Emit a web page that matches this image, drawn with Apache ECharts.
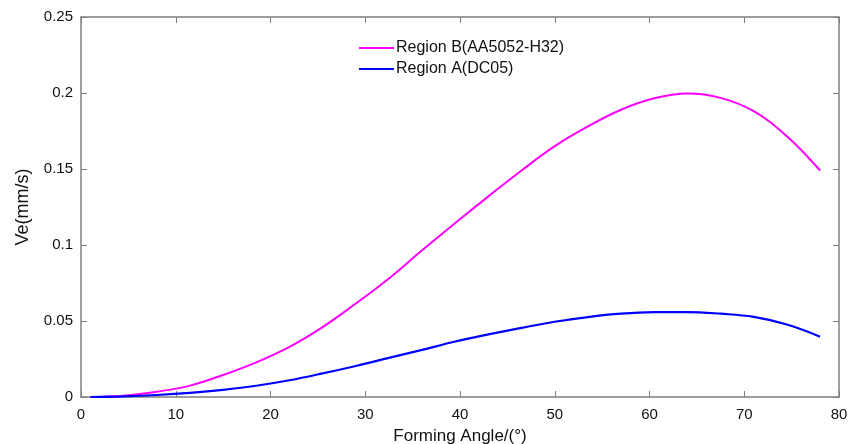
<!DOCTYPE html>
<html>
<head>
<meta charset="utf-8">
<script src="https://cdn.jsdelivr.net/npm/echarts@6/dist/echarts.min.js"></script>
<style>
  html, body { margin: 0; padding: 0; background: #fff; }
  #chart { width: 861px; height: 444px; }
</style>
</head>
<body>
<div id="chart"></div>
<script>
// Forming angle (°) sample positions, shared by both regions
const angles = [1, 4.5, 8, 11.5, 15, 18.5, 22, 25.5, 29, 32.5, 36, 39.5, 43, 46.5, 50, 53.5, 57, 60.5, 64, 67.5, 71, 74.5, 78];

// Velocity Ve (mm/s), Region B (AA5052-H32)
const regionB = [0, 0.0009, 0.0035, 0.0075, 0.0145, 0.0228, 0.033, 0.046, 0.0615, 0.078, 0.0965, 0.1145, 0.132, 0.149, 0.165, 0.178, 0.189, 0.1965, 0.1996, 0.1968, 0.188, 0.1715, 0.149];

// Velocity Ve (mm/s), Region A (DC05)
const regionA = [0, 0.0004, 0.0013, 0.0027, 0.0047, 0.0074, 0.011, 0.0155, 0.0204, 0.0257, 0.031, 0.0365, 0.0412, 0.0455, 0.0495, 0.0526, 0.0548, 0.0558, 0.0559, 0.0548, 0.0527, 0.0477, 0.0397];

const xTicks = { min: 0, max: 80, interval: 10 };
const yTicks = { min: 0, max: 0.25, interval: 0.05 };

const seriesNames = ['Region B(AA5052-H32)', 'Region A(DC05)'];

const axisGray = '#7f7f7f';
const font = 'Liberation Sans, Arial, Helvetica, sans-serif';

function pairs(xs, ys) { return xs.map((x, i) => [x, ys[i]]); }

function fmtY(v) {
  if (v === 0) return '0';
  return String(parseFloat(v.toFixed(2)));
}

const chart = echarts.init(document.getElementById('chart'), null, { renderer: 'canvas' });

const boxAxisLine = { show: true, onZero: false, lineStyle: { color: axisGray, width: 1.5 } };
const innerTick = { show: true, inside: true, length: 6, lineStyle: { color: axisGray, width: 1 } };

chart.setOption({
  animation: false,
  backgroundColor: '#ffffff',
  grid: { left: 81, right: 22, top: 17, bottom: 47, containLabel: false, outerBoundsMode: 'none' },
  legend: {
    orient: 'vertical',
    left: 354,
    top: 35,
    itemWidth: 35,
    itemHeight: 2,
    itemGap: 5,
    icon: 'rect',
    textStyle: { fontFamily: font, fontSize: 16, color: '#111', padding: [0, 0, 0, -3] },
    data: seriesNames
  },
  xAxis: [
    {
      type: 'value', position: 'bottom',
      min: xTicks.min, max: xTicks.max, interval: xTicks.interval,
      name: 'Forming Angle/(°)', nameLocation: 'middle', nameGap: 31,
      nameTextStyle: { fontFamily: font, fontSize: 17, color: '#111' },
      axisLine: boxAxisLine, axisTick: innerTick,
      axisLabel: { fontFamily: font, fontSize: 15, color: '#111', margin: 10 },
      splitLine: { show: false }
    },
    {
      type: 'value', position: 'top',
      min: xTicks.min, max: xTicks.max, interval: xTicks.interval,
      axisLine: boxAxisLine, axisTick: innerTick,
      axisLabel: { show: false }, splitLine: { show: false }
    }
  ],
  yAxis: [
    {
      type: 'value', position: 'left',
      min: yTicks.min, max: yTicks.max, interval: yTicks.interval,
      name: 'Ve(mm/s)', nameLocation: 'middle', nameGap: 49, nameRotate: 90,
      nameTextStyle: { fontFamily: font, fontSize: 18, color: '#111' },
      axisLine: boxAxisLine, axisTick: innerTick,
      axisLabel: { fontFamily: font, fontSize: 15, color: '#111', margin: 8, formatter: fmtY },
      splitLine: { show: false }
    },
    {
      type: 'value', position: 'right',
      min: yTicks.min, max: yTicks.max, interval: yTicks.interval,
      axisLine: boxAxisLine, axisTick: innerTick,
      axisLabel: { show: false }, splitLine: { show: false }
    }
  ],
  series: [
    {
      name: seriesNames[0], type: 'line', xAxisIndex: 0, yAxisIndex: 0,
      data: pairs(angles, regionB), smooth: 0.4, showSymbol: false,
      lineStyle: { color: '#ff00ff', width: 2 }, itemStyle: { color: '#ff00ff' }
    },
    {
      name: seriesNames[1], type: 'line', xAxisIndex: 0, yAxisIndex: 0,
      data: pairs(angles, regionA), smooth: 0.4, showSymbol: false,
      lineStyle: { color: '#0000ff', width: 2.2 }, itemStyle: { color: '#0000ff' }
    }
  ]
});
</script>
</body>
</html>
